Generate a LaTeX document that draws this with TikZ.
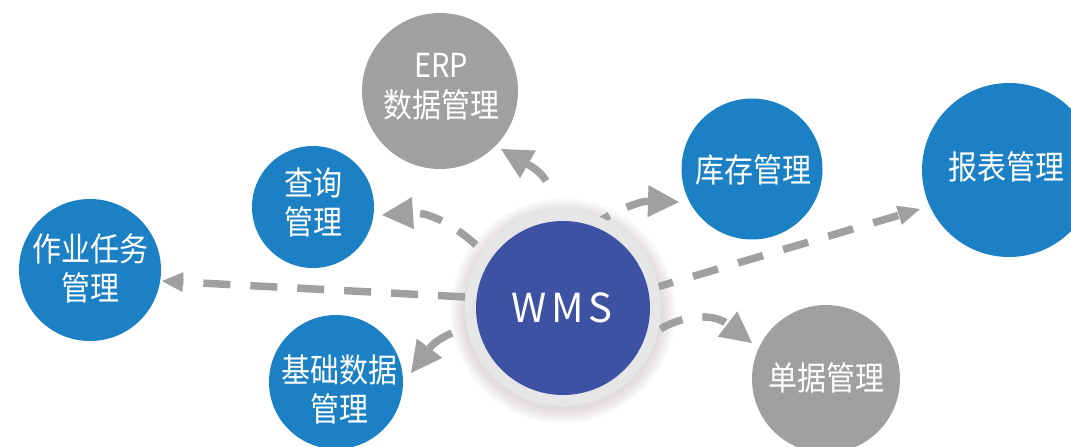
\documentclass[tikz,border=0pt]{standalone}
\usepackage{fontspec}
\setmainfont{Noto Sans CJK SC}
\usepackage{graphicx}
\usetikzlibrary{arrows.meta}
\definecolor{nodeblue}{HTML}{1B80C4}
\definecolor{nodegray}{HTML}{A0A0A0}
\definecolor{wmsblue}{HTML}{3D52A2}
\definecolor{ringgray}{HTML}{E6E6E6}
\definecolor{arrowgray}{HTML}{A0A0A0}
\definecolor{haloc}{RGB}{110,90,85}
\newcommand{\bubtext}[1]{\scalebox{1}[1.14]{\begin{tabular}{@{}c@{}}#1\end{tabular}}}
\begin{document}
\begin{tikzpicture}[x=1pt,y=-1pt,
  bubble/.style={circle, inner sep=0pt, outer sep=0pt},
  bluebubble/.style={bubble, fill=nodeblue},
  graybubble/.style={bubble, fill=nodegray},
  lbl/.style={inner sep=0pt, text=white, font=\fontsize{29}{33}\selectfont},
  conn/.style={draw=arrowgray, line width=7.5pt},
  bighead/.style={-{Triangle[length=31pt,width=32pt,line width=0pt]}},
  smallhead/.style={-{Triangle[length=21pt,width=20pt,line width=0pt]}},
]
\useasboundingbox (0,0) rectangle (1071,447);

% halo around the WMS ring
\foreach \i in {0,...,14} {
  \fill[haloc, opacity=0.015] (563,311) circle [radius={(99+\i)*1pt}];
}

% connector end points
\coordinate (taskS) at (466,297);
\coordinate (taskE) at (162,281);
\coordinate (repS) at (648,289.7);
\coordinate (repE) at (920,209);
\coordinate (qS) at (476,245);
\coordinate (qE) at (382,215);
\coordinate (erpS) at (546,181);
\coordinate (erpE) at (501,149);
\coordinate (stS) at (600,221);
\coordinate (stE) at (679,202);
\coordinate (billS) at (657,331);
\coordinate (billE) at (752,343);
\coordinate (baseS) at (452,333);
\coordinate (baseE) at (411,373);

% connectors
\draw[conn, smallhead, dash pattern=on 27pt off 20pt, dash phase=46pt] (taskS) -- (taskE);
\draw[conn, -{Triangle[length=22pt,width=20pt,line width=0pt]}, dash pattern=on 26pt off 21pt] (repS) -- (repE);
\draw[conn, bighead, dash pattern=on 23pt off 19pt] (qS) .. controls (455,226) and (430,212) .. (qE);
\draw[conn, bighead] (erpS) .. controls (542,174) and (536,169) .. (erpE);
\draw[conn, bighead, dash pattern=on 23pt off 19pt, dash phase=12pt] (stS) .. controls (615,211) and (640,201) .. (stE);
\draw[conn, bighead, dash pattern=on 24pt off 20pt, dash phase=40pt] (billS) .. controls (680,316) and (712,312) .. (billE);
\draw[conn, bighead] (baseS) .. controls (447,335) and (435,341) .. (baseE);

% WMS
\node[bubble, fill=ringgray, minimum size=196pt] (ring) at (563,308) {};
\node[bubble, fill=wmsblue, minimum size=174pt] (wms) at (563,308) {};
\node[inner sep=0pt, text=white, font=\fontsize{40}{42}\selectfont] (wmsT) at (562,308) {W\hspace{4.5pt}M\hspace{4.5pt}S};

% satellite bubbles
\node[graybubble, minimum size=156pt] (erp) at (440,91) {};
\node[bluebubble, minimum size=122pt] (query) at (313,207) {};
\node[bluebubble, minimum size=142pt] (task) at (90,270) {};
\node[bluebubble, minimum size=134pt] (base) at (336,382) {};
\node[bluebubble, minimum size=141pt] (stock) at (752,169) {};
\node[bluebubble, minimum size=174pt] (report) at (1009,170) {};
\node[graybubble, minimum size=148pt] (bill) at (826,379) {};

% labels
\node[lbl] (erpT) at (441,90) {\bubtext{ERP\\数据管理}};
\node[lbl] (queryT) at (313,207) {\bubtext{查询\\管理}};
\node[lbl] (taskT) at (90,273) {\bubtext{作业任务\\管理}};
\node[lbl] (baseT) at (339,394) {\bubtext{基础数据\\管理}};
\node[lbl] (stockT) at (753,174) {\bubtext{库存管理}};
\node[lbl] (reportT) at (1006,171) {\bubtext{报表管理}};
\node[lbl] (billT) at (826,382) {\bubtext{单据管理}};
\end{tikzpicture}
\end{document}
